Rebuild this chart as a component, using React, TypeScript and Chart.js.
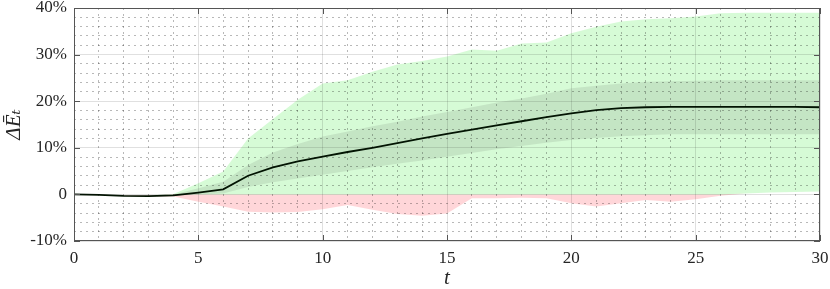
import React, { useEffect, useRef } from "react";
import { Chart, registerables } from "chart.js";

Chart.register(...registerables);

const tValues = Array.from({ length: 31 }, (_, i) => i);
const medianPct = [0, -0.1, -0.3, -0.35, -0.2, 0.4, 1.1, 4.0, 5.8, 7.1, 8.1, 9.1, 10.0, 11.0, 12.0, 13.0, 13.9, 14.8, 15.7, 16.6, 17.4, 18.1, 18.5, 18.7, 18.8, 18.8, 18.8, 18.8, 18.8, 18.8, 18.7];
const q3Pct = [0, -0.1, -0.3, -0.3, 0, 1.3, 2.7, 6.3, 9.0, 10.8, 12.4, 13.5, 14.6, 15.6, 16.7, 17.7, 18.7, 19.7, 20.6, 21.6, 22.8, 23.3, 23.8, 24.2, 24.3, 24.4, 24.5, 24.5, 24.5, 24.5, 24.5];
const q1Pct = [0, -0.1, -0.3, -0.4, -0.3, 0, 0.2, 1.6, 2.6, 3.4, 4.2, 5.0, 5.8, 6.6, 7.3, 8.1, 8.9, 9.7, 10.4, 11.1, 11.7, 12.1, 12.5, 12.7, 12.9, 12.9, 12.9, 12.9, 12.9, 12.9, 12.9];
const maxPct = [0, -0.1, -0.2, -0.2, 0.1, 2.4, 4.9, 12.0, 16.2, 20.3, 23.8, 24.5, 26.3, 27.9, 28.6, 29.6, 31.1, 30.8, 32.4, 32.6, 34.6, 36.0, 37.1, 37.6, 37.8, 38.2, 38.9, 39.0, 39.0, 39.0, 39.0];
const minPct = [0, -0.15, -0.35, -0.45, -0.45, -1.6, -2.6, -3.7, -3.9, -3.8, -3.2, -2.3, -3.3, -4.2, -4.6, -4.1, -0.8, -0.8, -0.7, -0.8, -1.9, -2.6, -1.9, -1.2, -1.6, -1.05, -0.3, 0.2, 0.4, 0.5, 0.6];
const xTicks = [0, 5, 10, 15, 20, 25, 30];
const yTicks = [-10, 0, 10, 20, 30, 40];

const FONT = "'Liberation Serif', 'DejaVu Serif', serif";

const pts = (arr: number[]) => tValues.map((t, i) => ({ x: t, y: arr[i] }));
const midPct = minPct.map((m, i) => Math.min(Math.max(0, m), maxPct[i]));

const boxPlugin = {
  id: "boxTicks",
  afterDraw(chart: any) {
    const { ctx, chartArea } = chart;
    const { left, right, top, bottom } = chartArea;
    const xs = chart.scales.x;
    const ys = chart.scales.y;
    ctx.save();
    ctx.strokeStyle = "#555";
    ctx.lineWidth = 1;
    ctx.strokeRect(left + 0.5, top + 0.5, right - left - 1, bottom - top - 1);
    ctx.beginPath();
    const L = 6;
    xTicks.forEach((v) => {
      const p = Math.round(xs.getPixelForValue(v)) + 0.5;
      ctx.moveTo(p, bottom);
      ctx.lineTo(p, bottom - L);
      ctx.moveTo(p, top);
      ctx.lineTo(p, top + L);
    });
    yTicks.forEach((v) => {
      const p = Math.round(ys.getPixelForValue(v)) + 0.5;
      ctx.moveTo(left, p);
      ctx.lineTo(left + L, p);
      ctx.moveTo(right, p);
      ctx.lineTo(right - L, p);
    });
    ctx.stroke();
    ctx.restore();
  },
};

const zeroPad = (s: any) => {
  s.paddingTop = 0;
  s.paddingBottom = 0;
  s.paddingLeft = 0;
  s.paddingRight = 0;
};

export default function App() {
  const ref = useRef<HTMLCanvasElement>(null);
  useEffect(() => {
    if (!ref.current) return;
    const band = { pointRadius: 0, borderWidth: 0, tension: 0 };
    const chart = new Chart(ref.current, {
      type: "line",
      data: {
        datasets: [
          { label: "median", data: pts(medianPct), borderColor: "#021402", borderWidth: 1.8, pointRadius: 0, fill: false, tension: 0 },
          { label: "q3", data: pts(q3Pct), ...band, borderColor: "transparent", fill: 2, backgroundColor: "rgba(0,0,0,0.085)" },
          { label: "q1", data: pts(q1Pct), ...band, borderColor: "transparent", fill: false },
          { label: "max", data: pts(maxPct), ...band, borderColor: "transparent", fill: 4, backgroundColor: "rgba(0,230,0,0.16)" },
          { label: "mid", data: pts(midPct), ...band, borderColor: "transparent", fill: false },
          { label: "min", data: pts(minPct), ...band, borderColor: "transparent", fill: 4, backgroundColor: "rgba(255,0,18,0.16)" },
        ],
      },
      options: {
        animation: false,
        responsive: false,
        maintainAspectRatio: false,
        layout: { padding: { left: 0, top: 8, right: 10, bottom: 0 } },
        plugins: { legend: { display: false }, tooltip: { enabled: false } },
        scales: {
          x: {
            type: "linear",
            min: 0,
            max: 30,
            position: "bottom",
            afterBuildTicks: (s: any) => { s.ticks = xTicks.map((v) => ({ value: v })); },
            ticks: { padding: 7, color: "#262626", font: { family: FONT, size: 17 } },
            grid: { color: "rgba(0,0,0,0.12)", drawTicks: false, z: 1, lineWidth: 1 },
            border: { display: false },
            title: { display: true, text: "t", color: "#262626", font: { family: FONT, size: 21, style: "italic", lineHeight: 1 }, padding: { top: 0, bottom: 0 } },
            afterFit: (s: any) => { s.height = 48; zeroPad(s); },
          },
          y: {
            type: "linear",
            min: -10,
            max: 40,
            position: "left",
            afterBuildTicks: (s: any) => { s.ticks = yTicks.map((v) => ({ value: v })); },
            ticks: { padding: 7, color: "#262626", font: { family: FONT, size: 17 }, callback: (v: any) => (v === 0 ? "0" : v + "%") },
            grid: { color: "rgba(0,0,0,0.12)", drawTicks: false, z: 1, lineWidth: 1 },
            border: { display: false },
            title: { display: true, text: "ΔĒₜ", color: "#262626", font: { family: FONT, size: 21, style: "italic", lineHeight: 1 }, padding: { top: 4, bottom: 0 } },
            afterFit: (s: any) => { s.width = 74; zeroPad(s); },
          },
          xMinor: {
            type: "linear",
            min: 0,
            max: 30,
            position: "bottom",
            ticks: { display: false, stepSize: 1 },
            grid: {
              z: 1,
              drawTicks: false,
              color: (c: any) => (c.tick && c.tick.value % 5 === 0 ? "rgba(0,0,0,0)" : "rgba(0,0,0,0.28)"),
              tickBorderDash: [2, 4],
            },
            border: { display: false, dash: [2, 4] },
            afterFit: (s: any) => { s.height = 0; zeroPad(s); },
          },
          yMinor: {
            type: "linear",
            min: -10,
            max: 40,
            position: "left",
            ticks: { display: false, stepSize: 2 },
            grid: {
              z: 1,
              drawTicks: false,
              color: (c: any) => (c.tick && c.tick.value % 10 === 0 ? "rgba(0,0,0,0)" : "rgba(0,0,0,0.28)"),
            },
            border: { display: false, dash: [2, 4] },
            afterFit: (s: any) => { s.width = 0; zeroPad(s); },
          },
        } as any,
      },
      plugins: [boxPlugin],
    });
    return () => chart.destroy();
  }, []);
  return (
    <div style={{ position: "absolute", left: 0, top: 0, width: 830, height: 289, background: "#fff" }}>
      <canvas ref={ref} width={830} height={289} style={{ width: 830, height: 289, display: "block" }} />
    </div>
  );
}
